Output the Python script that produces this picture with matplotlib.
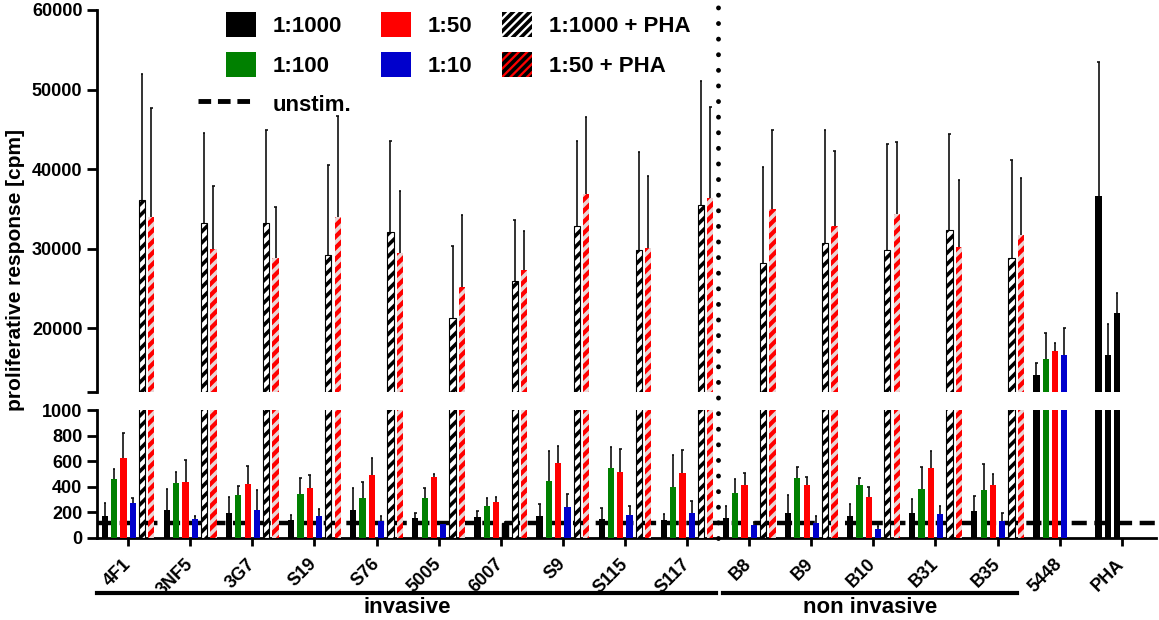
import numpy as np
import matplotlib.pyplot as plt
from matplotlib.patches import Patch
from matplotlib.lines import Line2D
from matplotlib.legend_handler import HandlerLine2D
from matplotlib.transforms import blended_transform_factory

plt.rcParams['font.family'] = ['Liberation Sans', 'DejaVu Sans']
plt.rcParams['font.weight'] = 'bold'
plt.rcParams['hatch.linewidth'] = 2.6

groups = ['4F1', '3NF5', '3G7', 'S19', 'S76', '5005', '6007', 'S9', 'S115', 'S117',
          'B8', 'B9', 'B10', 'B31', 'B35', '5448', 'PHA']

# samples 0..14 plus 5448 (index 15)
d1000 = [173, 221, 199, 141, 215, 154, 160, 168, 146, 141, 157, 194, 173, 194, 210, 14090]
d1000_sd = [101, 159, 123, 40, 179, 40, 53, 95, 91, 48, 90, 138, 93, 107, 117, 1510]
d100 = [463, 428, 335, 346, 309, 316, 253, 444, 545, 402, 348, 465, 415, 386, 372, 16200]
d100_sd = [77, 85, 72, 119, 130, 75, 63, 234, 168, 250, 112, 88, 56, 167, 205, 3200]
d50 = [628, 441, 423, 394, 492, 476, 279, 582, 513, 508, 415, 412, 319, 545, 412, 17100]
d50_sd = [196, 165, 138, 101, 133, 24, 45, 136, 184, 181, 96, 67, 83, 133, 91, 1100]
d10 = [271, 146, 218, 168, 136, 106, 118, 245, 181, 194, 101, 114, 69, 189, 133, 16700]
d10_sd = [43, 27, 154, 58, 37, 8, 10, 95, 69, 96, 24, 54, 27, 64, 66, 3400]

# samples 0..14 with PHA
pha1000 = [36100, 33200, 33200, 29200, 32100, 21300, 26000, 32900, 29900, 35500,
           28200, 30700, 29900, 32300, 28800]
pha1000_sd = [15850, 11300, 11700, 11300, 11400, 9000, 7600, 10600, 12300, 15600,
              12100, 14200, 13300, 12100, 12400]
pha50 = [34000, 30000, 28900, 34000, 29500, 25200, 27300, 36900, 30100, 36400,
         35000, 32900, 34400, 30200, 31700]
pha50_sd = [13700, 7900, 6400, 12700, 7800, 9100, 4900, 9600, 9100, 11400,
            9900, 9400, 9000, 8400, 7200]

# PHA control (index 16)
pha_ctrl = [36600, 16600, 21900]
pha_ctrl_sd = [16900, 4000, 2600]

unstim = 115

x = np.arange(len(groups))
off = (np.arange(6) - 2.5) * 0.15
w = 0.1

fig = plt.figure(figsize=(11.59, 6.2), dpi=100)
ax_top = fig.add_axes([0.0837, 0.3677, 0.9137, 0.6162])
ax_bot = fig.add_axes([0.0837, 0.1323, 0.9137, 0.2064], sharex=ax_top)


def err(ax, xs, vals, sds):
    xs = np.asarray(xs)
    tops = np.asarray(vals) + np.asarray(sds)
    ax.vlines(xs, vals, tops, color='#111111', lw=1.2, zorder=2)
    ax.hlines(tops, xs - 0.02, xs + 0.02, color='#111111', lw=1.2, zorder=2)


for ax in (ax_top, ax_bot):
    n = len(d1000)
    solid = [(d1000, d1000_sd, 'black'), (d100, d100_sd, '#008000'),
             (d50, d50_sd, '#ff0000'), (d10, d10_sd, '#0000cc')]
    for k, (v, s, c) in enumerate(solid):
        bars = ax.bar(x[:n] + off[k], v, w, color=c, zorder=3)
        err(ax, x[:n] + off[k], v, s)
        if k == 3:
            bars[6].set_color('black')
    m = len(pha1000)
    ax.bar(x[:m] + off[4], pha1000, w, facecolor='white', edgecolor='black',
           hatch='///', lw=0.8, zorder=3)
    err(ax, x[:m] + off[4], pha1000, pha1000_sd)
    ax.bar(x[:m] + off[5], pha50, w, facecolor='#ff0000', edgecolor='#e9d6d6',
           hatch='///', lw=0, zorder=3)
    err(ax, x[:m] + off[5], pha50, pha50_sd)
    ax.bar(x[16] + off[:3], pha_ctrl, w, color='black', zorder=3)
    err(ax, x[16] + off[:3], pha_ctrl, pha_ctrl_sd)
    for sp in ('top', 'right'):
        ax.spines[sp].set_visible(False)
    ax.spines['left'].set_linewidth(2)
    ax.tick_params(axis='y', width=2, length=7, labelsize=13)

ax_bot.axhline(unstim, color='black', lw=3.2, ls=(0, (3.4, 1.7)), zorder=2.5)

ax_top.set_xlim(-0.5, 16.55)
ax_top.set_ylim(12000, 60000)
ax_top.set_yticks([12000, 20000, 30000, 40000, 50000, 60000])
ax_top.set_yticklabels(['', '20000', '30000', '40000', '50000', '60000'])
ax_top.spines['bottom'].set_visible(False)
ax_top.tick_params(axis='x', bottom=False, labelbottom=False)

ax_bot.set_ylim(0, 1000)
ax_bot.set_yticks(range(0, 1001, 200))
ax_bot.spines['bottom'].set_linewidth(2)
ax_bot.set_xticks(x)
ax_bot.set_xticklabels(groups, rotation=45, ha='right', va='center',
                       rotation_mode='anchor', fontsize=13)
ax_bot.tick_params(axis='x', width=2, length=6, pad=11)

fig.text(0.013, 0.565, 'proliferative response [cpm]', rotation=90,
         ha='center', va='center', fontsize=15, fontweight='bold')

# dotted separator
bt = blended_transform_factory(ax_bot.transData, fig.transFigure)
fig.add_artist(Line2D([9.5, 9.5], [0.1323, 1.0], transform=bt, color='black',
                      lw=3.5, ls=(0, (0.01, 3.2)), dash_capstyle='round'))

# group brackets
fig.add_artist(Line2D([-0.5, 9.47], [0.044, 0.044], transform=bt, color='black', lw=3))
fig.add_artist(Line2D([9.58, 14.32], [0.044, 0.044], transform=bt, color='black', lw=3))
fig.text(4.5, 0.02, 'invasive', transform=bt, ha='center', va='center', fontsize=16)
fig.text(11.95, 0.02, 'non invasive', transform=bt, ha='center', va='center', fontsize=16)


class LongLine(HandlerLine2D):
    def get_xdata(self, legend, xdescent, ydescent, width, height, fontsize):
        xd = np.array([-xdescent - 20, -xdescent + width])
        return xd, xd


unstim_handle = Line2D([], [], color='black', lw=3.5, ls=(0, (2.6, 1.4)))
handles = [Patch(facecolor='black'), Patch(facecolor='#008000'), unstim_handle,
           Patch(facecolor='#ff0000'), Patch(facecolor='#0000cc'),
           Patch(facecolor='white', edgecolor='black', hatch='////', lw=0),
           Patch(facecolor='#ff0000', edgecolor='black', hatch='////', lw=0)]
labels = ['1:1000', '1:100', 'unstim.', '1:50', '1:10', '1:1000 + PHA', '1:50 + PHA']
fig.legend(handles, labels, ncol=3, loc='upper left', bbox_to_anchor=(0.185, 0.998),
           frameon=False, fontsize=16, handlelength=1.35, handleheight=1.35,
           handletextpad=0.75, columnspacing=1.35, labelspacing=0.65, borderpad=0,
           handler_map={unstim_handle: LongLine()})

fig.savefig('out.png', dpi=100)
